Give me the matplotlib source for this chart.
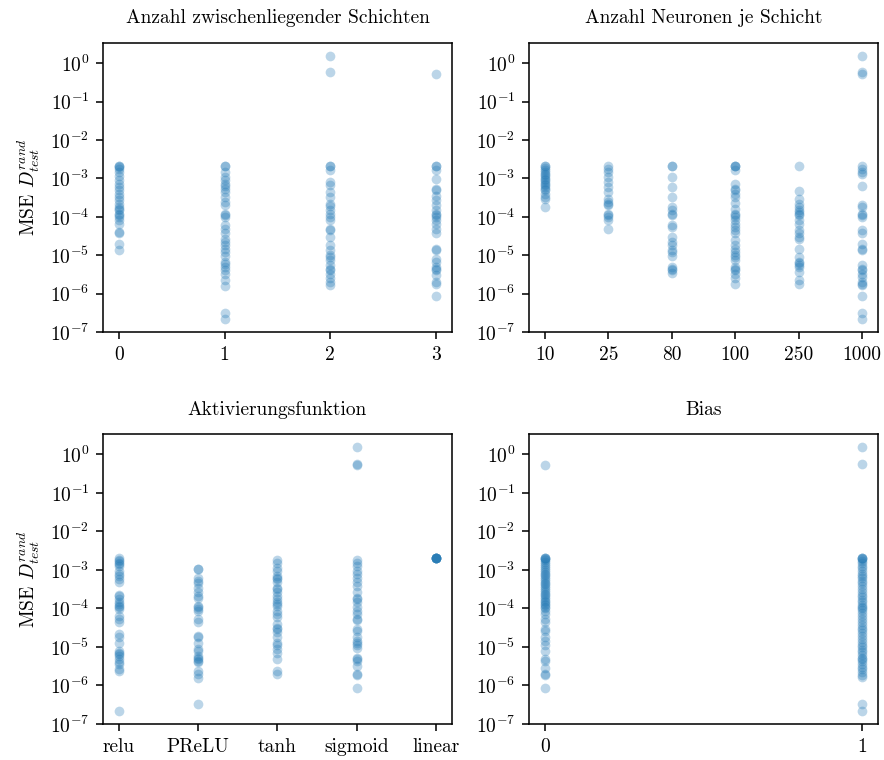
import matplotlib
matplotlib.use('Agg')
import matplotlib.pyplot as plt
from matplotlib.ticker import LogLocator, NullLocator

plt.rcParams['font.family'] = 'cmr10'
plt.rcParams['mathtext.fontset'] = 'cm'
plt.rcParams['axes.formatter.use_mathtext'] = True
plt.rcParams['font.size'] = 10
plt.rcParams['axes.titlesize'] = 10

# MSE auf D_test^rand, gruppiert nach Hyperparameter
schichten = ['0', '1', '2', '3']
mse_schichten = [
    [2.06e-3, 2.06e-3, 2.0e-3, 1.79e-3, 1.47e-3, 1.13e-3, 8.9e-4, 7.3e-4, 6.0e-4, 4.9e-4,
     4.0e-4, 3.3e-4, 2.7e-4, 2.2e-4, 1.8e-4, 1.63e-4, 1.48e-4, 1.21e-4, 1.10e-4, 9.9e-5,
     8.1e-5, 6.7e-5, 4.0e-5, 3.8e-5, 1.93e-5, 1.35e-5],
    [2.06e-3, 2.06e-3, 1.47e-3, 1.09e-3, 8.9e-4, 7.3e-4, 6.3e-4, 5.4e-4, 4.4e-4, 3.3e-4,
     2.4e-4, 2.0e-4, 1.21e-4, 1.10e-4, 9.9e-5, 6.0e-5, 4.9e-5, 3.7e-5, 2.6e-5, 2.2e-5,
     1.82e-5, 1.49e-5, 1.22e-5, 9.4e-6, 6.7e-6, 5.8e-6, 5.0e-6, 4.1e-6, 3.3e-6, 2.3e-6,
     1.6e-6, 3.2e-7, 2.2e-7],
    [1.55, 0.58, 2.06e-3, 2.06e-3, 1.62e-3, 8.1e-4, 6.6e-4, 4.4e-4, 3.3e-4, 2.2e-4,
     1.9e-4, 1.48e-4, 1.21e-4, 9.9e-5, 8.1e-5, 4.9e-5, 4.5e-5, 2.9e-5, 1.82e-5, 1.35e-5,
     1.0e-5, 9.1e-6, 7.4e-6, 5.5e-6, 4.5e-6, 4.1e-6, 3.3e-6, 2.5e-6, 2.0e-6, 1.66e-6],
    [0.53, 2.06e-3, 2.06e-3, 1.62e-3, 9.8e-4, 5.4e-4, 4.9e-4, 3.4e-4, 2.8e-4, 2.0e-4,
     1.48e-4, 1.21e-4, 1.10e-4, 9.9e-5, 8.1e-5, 6.4e-5, 4.9e-5, 3.7e-5, 1.49e-5, 1.35e-5,
     8.2e-6, 6.7e-6, 5.0e-6, 4.5e-6, 4.1e-6, 3.0e-6, 2.0e-6, 1.83e-6, 8.6e-7],
]

neuronen = ['10', '25', '80', '100', '250', '1000']
mse_neuronen = [
    [2.06e-3, 2.06e-3, 1.85e-3, 1.62e-3, 1.47e-3, 1.33e-3, 1.20e-3, 1.09e-3, 9.8e-4, 8.9e-4,
     8.1e-4, 7.3e-4, 6.6e-4, 6.0e-4, 5.4e-4, 4.9e-4, 4.0e-4, 3.3e-4, 3.0e-4, 1.8e-4],
    [2.06e-3, 1.79e-3, 1.47e-3, 1.09e-3, 8.1e-4, 6.0e-4, 4.4e-4, 3.0e-4, 2.4e-4, 2.2e-4,
     2.0e-4, 1.21e-4, 1.10e-4, 9.9e-5, 8.1e-5, 4.9e-5],
    [2.06e-3, 2.06e-3, 1.09e-3, 6.0e-4, 3.3e-4, 1.8e-4, 1.48e-4, 1.21e-4, 1.10e-4, 6.0e-5,
     5.5e-5, 3.0e-5, 2.2e-5, 1.82e-5, 1.35e-5, 1.22e-5, 9.4e-6, 5.0e-6, 4.5e-6, 4.1e-6,
     3.5e-6],
    [2.06e-3, 2.06e-3, 2.06e-3, 1.62e-3, 7.3e-4, 5.4e-4, 4.9e-4, 4.0e-4, 3.3e-4, 2.3e-4,
     1.63e-4, 1.21e-4, 1.10e-4, 1.0e-4, 8.1e-5, 6.7e-5, 5.5e-5, 4.5e-5, 3.7e-5, 2.5e-5,
     1.82e-5, 1.49e-5, 1.22e-5, 1.0e-5, 9.1e-6, 7.4e-6, 5.0e-6, 4.5e-6, 4.1e-6, 3.3e-6,
     2.5e-6, 1.83e-6],
    [2.06e-3, 4.7e-4, 3.0e-4, 2.2e-4, 1.8e-4, 1.48e-4, 1.34e-4, 1.21e-4, 1.10e-4, 8.1e-5,
     6.7e-5, 4.5e-5, 3.7e-5, 3.0e-5, 2.7e-5, 1.49e-5, 9.1e-6, 6.7e-6, 6.1e-6, 5.5e-6,
     5.0e-6, 3.7e-6, 2.2e-6, 1.83e-6],
    [1.55, 0.58, 0.53, 2.06e-3, 1.79e-3, 1.47e-3, 1.33e-3, 6.3e-4, 2.0e-4, 1.8e-4,
     1.21e-4, 1.10e-4, 9.9e-5, 4.5e-5, 3.8e-5, 1.93e-5, 1.49e-5, 1.35e-5, 5.5e-6, 4.5e-6,
     4.1e-6, 3.3e-6, 2.7e-6, 2.0e-6, 1.83e-6, 1.66e-6, 8.6e-7, 3.2e-7, 2.2e-7],
]

aktivierung = ['relu', 'PReLU', 'tanh', 'sigmoid', 'linear']
mse_aktivierung = [
    [2.06e-3, 1.85e-3, 1.7e-3, 1.55e-3, 1.4e-3, 1.28e-3, 9.4e-4, 7.8e-4, 7.1e-4, 5.8e-4,
     4.8e-4, 2.3e-4, 2.1e-4, 1.75e-4, 1.45e-4, 1.3e-4, 1.17e-4, 1.06e-4, 9.6e-5, 6.5e-5,
     5.4e-5, 4.4e-5, 2.2e-5, 1.8e-5, 1.3e-5, 7.9e-6, 7.1e-6, 6.5e-6, 5.8e-6, 4.8e-6,
     4.0e-6, 3.6e-6, 2.7e-6, 2.4e-6, 2.2e-7],
    [1.09e-3, 1.05e-3, 6.3e-4, 5.2e-4, 4.7e-4, 3.5e-4, 2.6e-4, 2.1e-4, 1.9e-4, 1.17e-4,
     1.06e-4, 9.6e-5, 8.8e-5, 5.4e-5, 4.4e-5, 1.9e-5, 1.8e-5, 1.3e-5, 8.8e-6, 7.9e-6,
     5.8e-6, 5.3e-6, 4.8e-6, 4.4e-6, 4.0e-6, 2.4e-6, 2.0e-6, 1.6e-6, 3.3e-7],
    [1.85e-3, 1.55e-3, 1.15e-3, 9.4e-4, 7.1e-4, 6.3e-4, 5.8e-4, 4.8e-4, 3.5e-4, 3.2e-4,
     2.6e-4, 2.1e-4, 1.75e-4, 1.45e-4, 1.3e-4, 1.17e-4, 8.8e-5, 7.2e-5, 5.9e-5, 3.9e-5,
     3.2e-5, 2.9e-5, 2.4e-5, 1.8e-5, 1.3e-5, 1.1e-5, 8.8e-6, 7.1e-6, 4.8e-6, 2.4e-6,
     2.0e-6],
    [1.6, 0.57, 0.53, 1.85e-3, 1.55e-3, 1.28e-3, 9.4e-4, 7.8e-4, 6.3e-4, 4.8e-4,
     3.9e-4, 2.6e-4, 1.9e-4, 1.75e-4, 1.45e-4, 1.06e-4, 8.8e-5, 7.2e-5, 5.4e-5, 4.9e-5,
     2.9e-5, 2.6e-5, 1.8e-5, 1.45e-5, 1.3e-5, 1.1e-5, 9.6e-6, 5.3e-6, 4.8e-6, 4.4e-6,
     3.3e-6, 2.0e-6, 1.85e-6, 8.6e-7],
    [2.06e-3, 2.06e-3, 2.06e-3, 2.06e-3, 2.06e-3, 2.06e-3, 2.06e-3, 2.06e-3],
]

bias = ['0', '1']
mse_bias = [
    [0.53, 2.06e-3, 2.06e-3, 2.06e-3, 1.9e-3, 1.8e-3, 1.6e-3, 1.45e-3, 1.3e-3, 1.15e-3,
     1.0e-3, 9e-4, 8e-4, 7.2e-4, 6.5e-4, 5.8e-4, 5.2e-4, 4.7e-4, 4.2e-4, 3.8e-4,
     3.4e-4, 3.0e-4, 2.7e-4, 2.4e-4, 2.2e-4, 2.0e-4, 1.8e-4, 1.6e-4, 1.45e-4, 1.3e-4,
     1.2e-4, 1.1e-4, 1.0e-4, 8.8e-5, 7.2e-5, 5.4e-5, 4.4e-5, 2.9e-5, 2.6e-5, 1.8e-5,
     1.45e-5, 1.1e-5, 7.9e-6, 4.8e-6, 4.4e-6, 2.8e-6, 2.0e-6, 1.85e-6, 8.6e-7],
    [1.6, 0.57, 2.06e-3, 2.06e-3, 2.06e-3, 1.9e-3, 1.7e-3, 1.5e-3, 1.3e-3, 1.1e-3,
     9.5e-4, 8e-4, 7e-4, 6e-4, 5.2e-4, 4.5e-4, 3.8e-4, 3.2e-4, 2.7e-4, 2.3e-4,
     2.0e-4, 1.7e-4, 1.45e-4, 1.25e-4, 1.1e-4, 1.0e-4, 9e-5, 7.5e-5, 6.3e-5, 5.3e-5,
     4.5e-5, 3.8e-5, 3.2e-5, 2.7e-5, 2.3e-5, 1.9e-5, 1.6e-5, 1.35e-5, 1.15e-5, 1.0e-5,
     8.5e-6, 7.2e-6, 6.1e-6, 5.2e-6, 4.8e-6, 4.4e-6, 3.7e-6, 3.1e-6, 2.6e-6, 2.2e-6,
     1.9e-6, 1.65e-6, 3.3e-7, 2.2e-7],
]

panels = [
    ('Anzahl zwischenliegender Schichten', schichten, mse_schichten),
    ('Anzahl Neuronen je Schicht', neuronen, mse_neuronen),
    ('Aktivierungsfunktion', aktivierung, mse_aktivierung),
    ('Bias', bias, mse_bias),
]

fig = plt.figure(figsize=(884 / 140, 760 / 140), dpi=140)
positions = [
    [0.1165, 0.5632, 0.3948, 0.3803],
    [0.5984, 0.5632, 0.3948, 0.3803],
    [0.1165, 0.0474, 0.3948, 0.3816],
    [0.5984, 0.0474, 0.3948, 0.3816],
]

for i, (titel, kategorien, werte) in enumerate(panels):
    ax = fig.add_axes(positions[i])
    for k, w in enumerate(werte):
        ax.scatter([k] * len(w), w, s=25, color='#1f77b4', alpha=0.3, linewidths=0)
    ax.set_yscale('log')
    ax.set_ylim(1e-7, 3.4)
    ax.yaxis.set_major_locator(LogLocator(base=10, numticks=10))
    ax.yaxis.set_minor_locator(NullLocator())
    ax.set_xticks(range(len(kategorien)))
    ax.set_xticklabels(kategorien)
    ax.set_title(titel, pad=10)
    if i % 2 == 0:
        ax.set_ylabel(r'MSE $D_{test}^{rand}$')

plt.savefig('out.png', dpi=140)
